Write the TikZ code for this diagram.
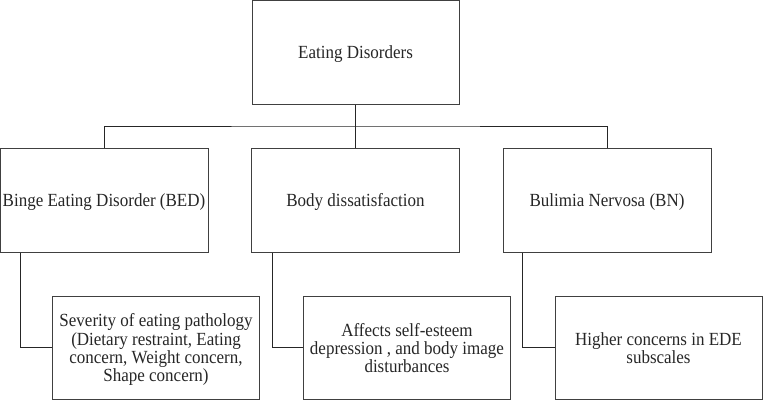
\documentclass[tikz,border=0pt]{standalone}
\usepackage{fontspec}
\usepackage{graphicx}
\setmainfont{Liberation Serif}
\newcommand\vtext[1]{\raisebox{-3pt}[\height][\depth]{\scalebox{1}[1.09]{\begin{tabular}{@{}c@{}}#1\end{tabular}}}}
\begin{document}
\begin{tikzpicture}[x=1pt,y=-1pt,
  box/.style={draw=black!75, line width=1pt, text=black!85, align=center,
    inner sep=0pt, font=\fontsize{17}{16.5}\selectfont},
  topbox/.style={box, minimum width=207pt, minimum height=103.5pt},
  midbox/.style={box, minimum width=208pt, minimum height=104pt},
  kidbox/.style={box, minimum width=207pt, minimum height=103pt},
  conn/.style={draw=black!85, line width=1pt}]
\useasboundingbox (0,0) rectangle (763,400);
\node[topbox] (top) at (355.5,52.25) {\vtext{Eating Disorders}};
\node[midbox] (bed) at (104,200) {\vtext{Binge Eating Disorder (BED)}};
\node[midbox] (bd) at (355.5,200) {\vtext{Body dissatisfaction}};
\node[midbox] (bn) at (607,200) {\vtext{Bulimia Nervosa (BN)}};
\node[kidbox] (sev) at (156,347.5) {\vtext{Severity of eating pathology\\(Dietary restraint, Eating\\concern, Weight concern,\\Shape concern)}};
\node[kidbox] (aff) at (407,347.5) {\vtext{Affects self-esteem\\depression , and body image\\disturbances}};
\node[kidbox] (hig) at (658.5,347.5) {\vtext{Higher concerns in EDE\\subscales}};
\coordinate (bus) at (355.5,126);
\draw[conn] (top.south) -- (bus);
\draw[conn] (bed.north) |- (bus) -| (bn.north);
\draw[conn] (bd.north) -- (bus);
\draw[conn] ([xshift=21pt]bed.south west) |- (sev.west);
\draw[conn] ([xshift=21pt]bd.south west) |- (aff.west);
\draw[conn] ([xshift=20pt]bn.south west) |- (hig.west);
\end{tikzpicture}
\end{document}
